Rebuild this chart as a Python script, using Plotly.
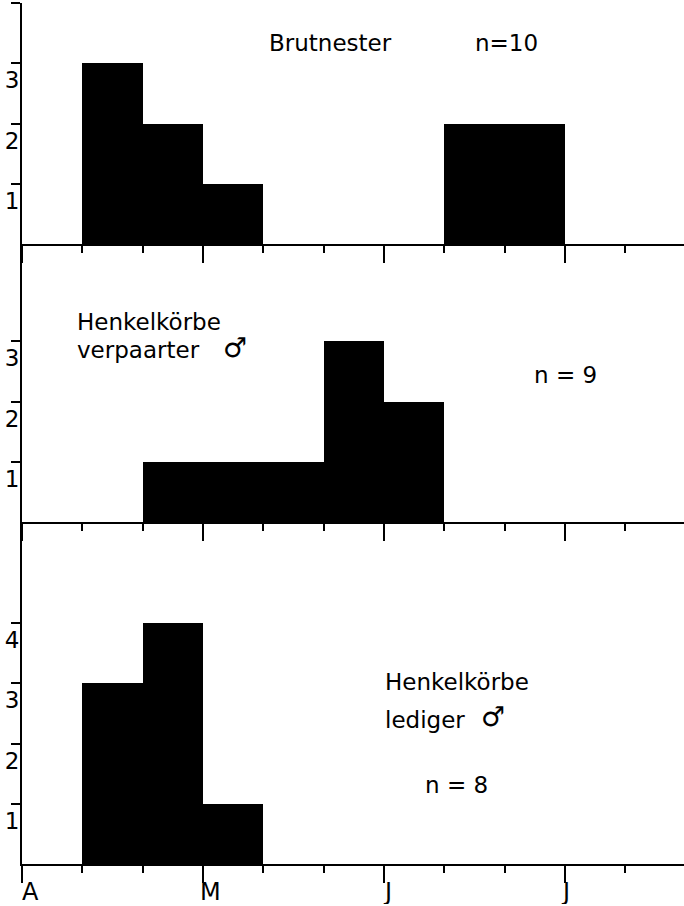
import plotly.graph_objects as go

# 10-day periods (Dekaden) counted from 1 April
dekade = list(range(11))
brutnester = [0, 3, 2, 1, 0, 0, 0, 2, 2, 0, 0]
verpaarter = [0, 0, 1, 1, 1, 3, 2, 0, 0, 0, 0]
lediger = [0, 3, 4, 1, 0, 0, 0, 0, 0, 0, 0]
month_ticks = [0, 3, 6, 9]
month_labels = ["A", "M", "J", "J"]
y_ticks_top = [1, 2, 3, 4]
y_text_top = ["1", "2", "3", ""]
y_ticks_mid = [1, 2, 3]
y_ticks_bot = [1, 2, 3, 4]

W, H = 684, 906
ML, MR, MT, MB = 22, 0, 3, 42
PW, PH = W - ML - MR, H - MT - MB
FONT = "DejaVu Sans"

def px(xp):
    return (xp - ML) / PW

def py(yp):
    return (H - MB - yp) / PH

centers = [d + 0.5 for d in dekade]

fig = go.Figure()
for vals, xa, ya in [(brutnester, "x", "y"), (verpaarter, "x2", "y2"), (lediger, "x3", "y3")]:
    fig.add_trace(go.Bar(x=centers, y=vals, width=1, xaxis=xa, yaxis=ya,
                         marker=dict(color="black", line=dict(width=0)),
                         showlegend=False, hoverinfo="skip"))

# panel pixel heights (baselines at 244, 522, 864)
h1, h2, h3 = 241, 278, 342
ppu = h1 / 4.0
d3 = h3 / PH
d2 = (h3 + h2) / PH

xcommon = dict(range=[0, PW / 60.33], showline=True, linecolor="black", linewidth=2,
               ticks="outside", tickmode="array", tickvals=month_ticks, ticklen=17,
               tickwidth=2, tickcolor="black",
               minor=dict(tickmode="array", tickvals=dekade, ticks="outside", ticklen=7,
                          tickwidth=2, tickcolor="black", showgrid=False),
               showgrid=False, zeroline=False, showticklabels=False, fixedrange=True,
               automargin=False)

def ycommon(rng, dom, tv, tt, anchor):
    return dict(range=rng, domain=dom, anchor=anchor, showline=True, linecolor="black",
                linewidth=2, ticks="outside", ticklen=9, tickwidth=2, tickcolor="black",
                tickmode="array", tickvals=tv, ticktext=tt,
                ticklabelposition="outside bottom", ticklabelstandoff=-4,
                tickfont=dict(family=FONT, size=23, color="black"),
                showgrid=False, zeroline=False, fixedrange=True, automargin=False)

fig.update_layout(
    width=W, height=H, margin=dict(l=ML, r=MR, t=MT, b=MB, autoexpand=False),
    paper_bgcolor="white", plot_bgcolor="white", bargap=0,
    xaxis=dict(xcommon, anchor="y"),
    xaxis2=dict(xcommon, anchor="y2"),
    xaxis3=dict(xcommon, anchor="y3"),
    yaxis=ycommon([0, 4], [d2, 1], y_ticks_top, y_text_top, "x"),
    yaxis2=ycommon([0, h2 / ppu], [d3, d2], y_ticks_mid, [str(v) for v in y_ticks_mid], "x2"),
    yaxis3=ycommon([0, h3 / ppu], [0, d3], y_ticks_bot, [str(v) for v in y_ticks_bot], "x3"),
)

def txt(s, xp, yp, size=23, xanchor="left"):
    fig.add_annotation(text=s, x=px(xp), y=py(yp), xref="paper", yref="paper",
                       xanchor=xanchor, yanchor="middle", showarrow=False,
                       font=dict(family=FONT, size=size, color="black"))

txt("Brutnester", 267, 43)
txt("n=10", 473, 43)
txt("Henkelkörbe", 75, 322)
txt("verpaarter", 75, 350)
txt("♂", 235, 347, size=27, xanchor="center")
txt("n = 9", 532, 375)
txt("Henkelkörbe", 383, 682)
txt("lediger", 383, 720)
txt("♂", 493, 716, size=27, xanchor="center")
txt("n = 8", 423, 785)

shifts = [8, 8, 4, 1]
for v, lab, s in zip(month_ticks, month_labels, shifts):
    fig.add_annotation(text=lab, x=v, y=py(892), xref="x3", yref="paper",
                       xanchor="center", yanchor="middle", xshift=s, showarrow=False,
                       height=24, valign="middle",
                       font=dict(family=FONT, size=24, color="black"))

fig.write_html("out.html", config={"displayModeBar": False, "staticPlot": True},
               post_script="document.body.style.margin='0';document.body.style.overflow='hidden';")
